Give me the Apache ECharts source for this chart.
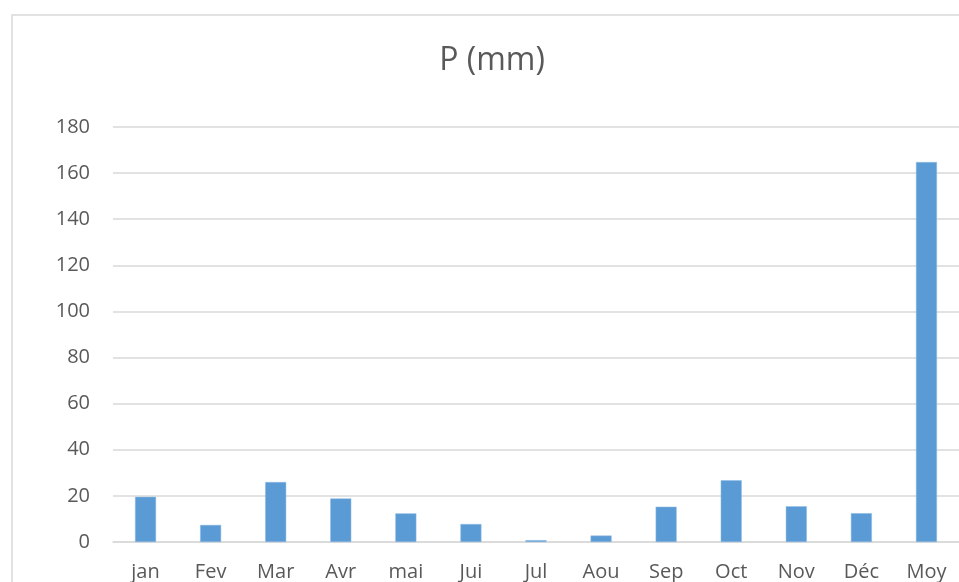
<!DOCTYPE html>
<html>
<head>
<meta charset="utf-8">
<script src="https://cdn.jsdelivr.net/npm/echarts@6/dist/echarts.min.js"></script>
<style>
  html, body { margin: 0; padding: 0; background: #ffffff; }
  #chart { width: 959px; height: 582px; }
</style>
</head>
<body>
<div id="chart"></div>
<script>
// Monthly precipitation (mm), with the annual figure in the last column
const months = ['jan', 'Fev', 'Mar', 'Avr', 'mai', 'Jui', 'Jul', 'Aou', 'Sep', 'Oct', 'Nov', 'Déc', 'Moy'];
const precip = [19.6, 7.4, 26.0, 18.9, 12.4, 7.8, 0.8, 2.8, 15.3, 26.8, 15.5, 12.5, 164.8];
const yTicks = { min: 0, max: 180, step: 20 };
const chartTitle = 'P (mm)';

const font = '"Open Sans", "Noto Sans", sans-serif';
const textColor = '#595959';
const lineColor = '#d9d9d9';

const chart = echarts.init(document.getElementById('chart'), null, { renderer: 'canvas' });
chart.setOption({
  backgroundColor: '#ffffff',
  animation: false,
  title: {
    text: chartTitle,
    left: 487,
    top: 40,
    textAlign: 'center',
    textStyle: { fontFamily: font, fontSize: 32, fontWeight: 'normal', color: textColor }
  },
  graphic: [{
    type: 'rect',
    shape: { x: 12, y: 15, width: 980, height: 600 },
    style: { fill: 'none', stroke: lineColor, lineWidth: 1.5 },
    silent: true,
    z: -1
  }],
  grid: { left: 113, right: -8, top: 127, bottom: 39.5 },
  xAxis: {
    type: 'category',
    data: months,
    axisLine: { show: true, lineStyle: { color: lineColor, width: 1.5 } },
    axisTick: { show: false },
    axisLabel: { fontFamily: font, fontSize: 20, color: textColor, margin: 20 }
  },
  yAxis: {
    type: 'value',
    min: yTicks.min,
    max: yTicks.max,
    interval: yTicks.step,
    axisLine: { show: false },
    axisTick: { show: false },
    splitLine: { lineStyle: { color: lineColor, width: 1.5 } },
    axisLabel: { fontFamily: font, fontSize: 20, color: textColor, margin: 23 }
  },
  series: [{
    type: 'bar',
    data: precip,
    barWidth: 21,
    itemStyle: { color: '#5b9bd5', borderColor: '#8fbbe4', borderWidth: 0.5 }
  }]
});
</script>
</body>
</html>
